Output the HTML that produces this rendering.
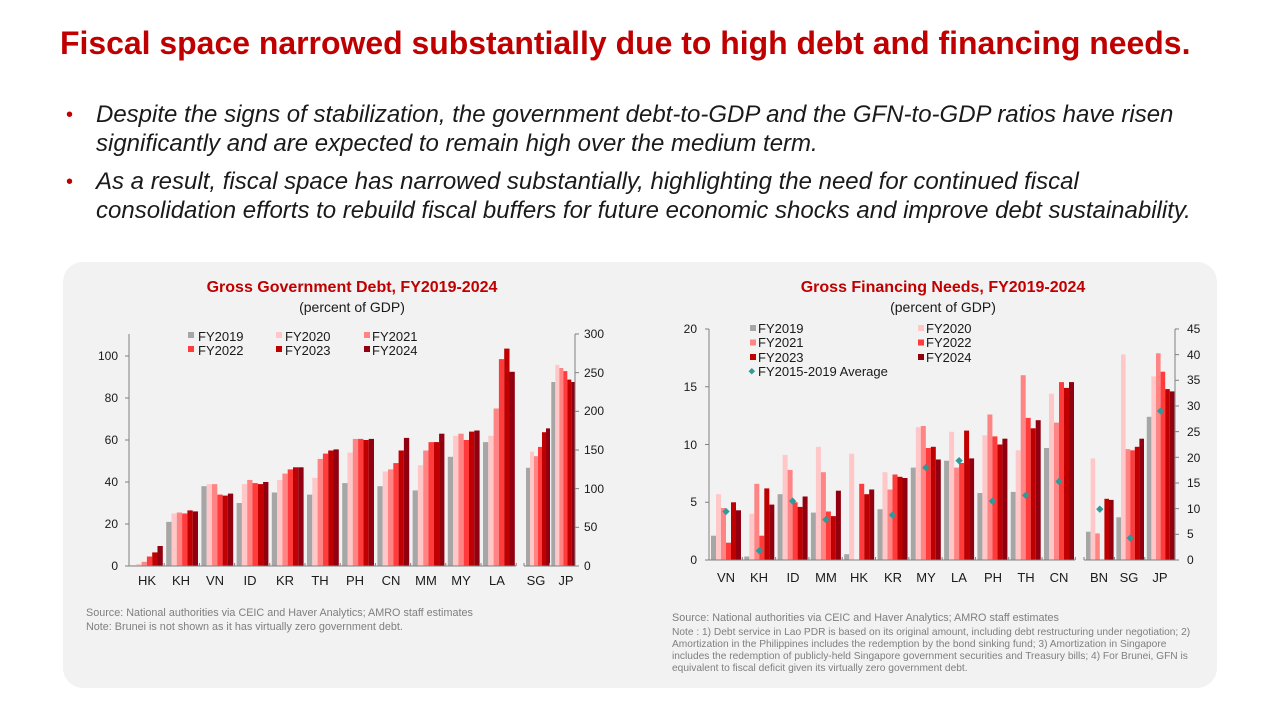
<!DOCTYPE html>
<html><head><meta charset="utf-8">
<style>
body{margin:0;width:1280px;height:720px;background:#fff;position:relative;overflow:hidden;font-family:"Liberation Sans",sans-serif}
.t{position:absolute;left:60px;top:25px;font-size:31.95px;font-weight:bold;color:#c00000;white-space:nowrap}
.b{position:absolute;left:66px;font-size:24px;font-style:italic;color:#1a1a1a;line-height:28.5px;white-space:nowrap}
.b span{position:absolute;left:0;color:#c00000;font-style:normal;font-size:20px}
.b div{margin-left:30px}
.panel{position:absolute;left:63px;top:262px;width:1154px;height:426px;background:#f2f2f2;border-radius:20px}
svg{position:absolute;left:0;top:0}
</style></head><body>
<div class="t">Fiscal space narrowed substantially due to high debt and financing needs.</div>
<div class="b" style="top:101px"><span>•</span><div>Despite the signs of stabilization, the government debt-to-GDP and the GFN-to-GDP ratios have risen<br>significantly and are expected to remain high over the medium term.</div></div>
<div class="b" style="top:168px"><span>•</span><div>As a result, fiscal space has narrowed substantially, highlighting the need for continued fiscal<br>consolidation efforts to rebuild fiscal buffers for future economic shocks and improve debt sustainability.</div></div>
<div class="panel"></div>
<svg id="s" width="1280" height="720" font-family="Liberation Sans, sans-serif">
<g font-size="16" font-weight="bold" fill="#c00000" text-anchor="middle">
<text x="352" y="292">Gross Government Debt, FY2019-2024</text>
<text x="943" y="292">Gross Financing Needs, FY2019-2024</text></g>
<g font-size="14" fill="#1a1a1a" text-anchor="middle">
<text x="352" y="312">(percent of GDP)</text>
<text x="943" y="312">(percent of GDP)</text></g>
<g font-size="12" fill="#1a1a1a" text-anchor="end">
<text x="118" y="570">0</text><text x="118" y="528">20</text><text x="118" y="486">40</text><text x="118" y="444">60</text><text x="118" y="402">80</text><text x="118" y="360">100</text>
<text x="697" y="564">0</text><text x="697" y="506">5</text><text x="697" y="449">10</text><text x="697" y="391">15</text><text x="697" y="333">20</text>
</g>
<g font-size="12" fill="#1a1a1a">
<text x="584" y="570">0</text><text x="584" y="531">50</text><text x="584" y="493">100</text><text x="584" y="454">150</text><text x="584" y="415">200</text><text x="584" y="377">250</text><text x="584" y="338">300</text>
<text x="1187" y="564">0</text><text x="1187" y="538">5</text><text x="1187" y="513">10</text><text x="1187" y="487">15</text><text x="1187" y="462">20</text><text x="1187" y="436">25</text><text x="1187" y="410">30</text><text x="1187" y="384">35</text><text x="1187" y="359">40</text><text x="1187" y="333">45</text>
</g>
<g font-size="13" fill="#1a1a1a" text-anchor="middle">
<text x="147" y="585">HK</text><text x="181" y="585">KH</text><text x="215" y="585">VN</text><text x="250" y="585">ID</text><text x="285" y="585">KR</text><text x="320" y="585">TH</text><text x="355" y="585">PH</text><text x="391" y="585">CN</text><text x="426" y="585">MM</text><text x="461" y="585">MY</text><text x="497" y="585">LA</text><text x="536" y="585">SG</text><text x="566" y="585">JP</text>
<text x="726" y="582">VN</text><text x="759" y="582">KH</text><text x="793" y="582">ID</text><text x="826" y="582">MM</text><text x="859" y="582">HK</text><text x="893" y="582">KR</text><text x="926" y="582">MY</text><text x="959" y="582">LA</text><text x="993" y="582">PH</text><text x="1026" y="582">TH</text><text x="1059" y="582">CN</text><text x="1099" y="582">BN</text><text x="1129" y="582">SG</text><text x="1160" y="582">JP</text>
</g>
<g font-size="13" fill="#1a1a1a">
<text x="198" y="341">FY2019</text><text x="285" y="341">FY2020</text><text x="372" y="341">FY2021</text>
<text x="198" y="355">FY2022</text><text x="285" y="355">FY2023</text><text x="372" y="355">FY2024</text>
<text x="758" y="333">FY2019</text><text x="926" y="333">FY2020</text>
<text x="758" y="347">FY2021</text><text x="926" y="347">FY2022</text>
<text x="758" y="362">FY2023</text><text x="926" y="362">FY2024</text>
<text x="758" y="376">FY2015-2019 Average</text>
</g>
<g font-size="10.8" fill="#7f7f7f">
<text x="86" y="616">Source: National authorities via CEIC and Haver Analytics; AMRO staff estimates</text>
<text x="86" y="630">Note: Brunei is not shown as it has virtually zero government debt.</text>
<text x="672" y="621">Source: National authorities via CEIC and Haver Analytics; AMRO staff estimates</text>
<g font-size="10.2">
<text x="672" y="635">Note : 1) Debt service in Lao PDR is based on its original amount, including debt restructuring under negotiation; 2)</text>
<text x="672" y="647">Amortization in the Philippines includes the redemption by the bond sinking fund; 3) Amortization in Singapore</text>
<text x="672" y="659">includes the redemption of publicly-held Singapore government securities and Treasury bills; 4) For Brunei, GFN is</text>
<text x="672" y="671">equivalent to fiscal deficit given its virtually zero government debt.</text></g>
</g>
<g id="g"></g>
</svg>
<script>
var C=["#a6a6a6","#ffc7c7","#ff8585","#ff3b3b","#c00000","#900010"];
var h="";
function r(x,y,w,hh,c){h+='<rect x="'+x.toFixed(1)+'" y="'+y.toFixed(1)+'" width="'+w+'" height="'+Math.max(0,hh).toFixed(1)+'" fill="'+c+'"/>';}
function l(x1,y1,x2,y2){h+='<line x1="'+x1+'" y1="'+y1+'" x2="'+x2+'" y2="'+y2+'" stroke="#808080" stroke-width="1"/>';}
var L=[[0.3,1,2,4.5,6.5,9.5],[21,25,25.5,25,26.5,26],[38,39,39,34,33.5,34.5],[30,39,41,39.5,39,40],[35,41,44,46,47,47],[34,42,51,53.5,55,55.5],[39.5,54,60.5,60.5,60,60.5],[38,45,46,49,55,61],[36,48,55,59,59,63],[52,62,63,60,64,64.5],[59,62,75,98.5,103.5,92.5]];
for(var i=0;i<11;i++)for(var j=0;j<6;j++)r(131+i*35.2+j*5.3,566-L[i][j]*2.1,5.3,L[i][j]*2.1,C[j]);
var R=[[127,148,142,154,173,178],[238,260,256,252,241,238]];
for(var i=0;i<2;i++)for(var j=0;j<6;j++)r(526+i*25.3+j*4,566-R[i][j]*0.7733,4,R[i][j]*0.7733,C[j]);
l(129,334,129,566);l(129,566,516,566);l(524,566,575,566);l(575,334,575,566);
for(var i=0;i<=11;i++)l(129+i*35.2,563,129+i*35.2,566);l(524,563,524,566);l(549.5,563,549.5,566);
for(var k=0;k<=5;k++)l(125,566-k*42,129,566-k*42);
for(var k=0;k<=6;k++)l(575,566-k*38.67,579,566-k*38.67);
var lx=[188,276,364];for(var j=0;j<6;j++)r(lx[j%3],(j<3?332:346),6,6,C[j]);
var G=[[2.1,5.7,4.5,1.5,5.0,4.3,4.2],[0.3,4.0,6.6,2.1,6.2,4.8,0.8],[5.7,9.1,7.8,5.0,4.6,5.5,5.1],[4.1,9.8,7.6,4.2,3.8,6.0,3.5],[0.5,9.2,0,6.6,5.7,6.1,null],[4.4,7.6,6.1,7.4,7.2,7.1,3.9],[8.0,11.5,11.6,9.7,9.8,8.7,8.0],[8.6,11.1,8.0,8.4,11.2,8.8,8.6],[5.8,10.8,12.6,10.7,10.0,10.5,5.1],[5.9,9.5,16.0,12.3,11.4,12.1,5.6],[9.7,14.4,11.9,15.4,14.9,15.4,6.8]];
var s=11.55,dots=[];
for(var i=0;i<11;i++){for(var j=0;j<6;j++)r(711+i*33.3+j*5,560-G[i][j]*s,5,G[i][j]*s,C[j]);if(G[i][6]!=null)dots.push([711+i*33.3+2.5*5+2.5,560-G[i][6]*s]);}
var H=[[2.45,8.8,2.3,0,5.3,5.2,4.4],[3.7,17.8,9.6,9.5,9.8,10.5,1.9],[12.4,15.9,17.9,16.3,14.8,14.6,12.9]];
for(var i=0;i<3;i++){for(var j=0;j<6;j++)r(1086+i*30.4+j*4.6,560-H[i][j]*s,4.6,H[i][j]*s,C[j]);dots.push([1086+i*30.4+2.5*4.6+2.3,560-H[i][6]*s]);}
l(709,329,709,560);l(709,560,1075,560);l(1084,560,1175,560);l(1175,329,1175,560);
for(var i=0;i<=11;i++)l(709+i*33.3,557,709+i*33.3,560);for(var i=0;i<3;i++)l(1084+i*30.4,557,1084+i*30.4,560);
for(var k=0;k<=4;k++)l(705,560-k*57.75,709,560-k*57.75);
for(var k=0;k<=9;k++)l(1175,560-k*25.67,1179,560-k*25.67);
for(var d of dots)h+='<rect x="'+(d[0]-2.6)+'" y="'+(d[1]-2.6)+'" width="5.2" height="5.2" fill="#2e9a9a" transform="rotate(45 '+d[0]+' '+d[1]+')"/>';
var rl=[750,918];for(var j=0;j<6;j++)r(rl[j%2],325+Math.floor(j/2)*14.5,6,6,C[j]);
h+='<rect x="749.5" y="369" width="4.6" height="4.6" fill="#2e9a9a" transform="rotate(45 751.8 371.3)"/>';
document.getElementById("g").innerHTML=h;
</script>
</body></html>
